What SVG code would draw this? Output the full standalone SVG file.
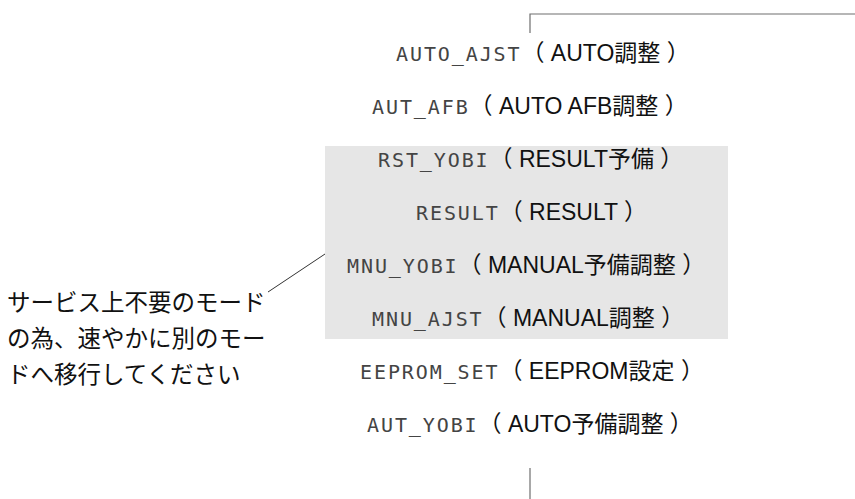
<svg xmlns="http://www.w3.org/2000/svg" width="855" height="499" viewBox="0 0 855 499">
<style>
.lbl{font-family:"Liberation Sans","Noto Sans CJK JP",sans-serif;font-size:23px;fill:#111}
.mono{font-family:"DejaVu Sans Mono",monospace;font-size:20px;fill:#444;letter-spacing:1.9px}
.note{font-family:"Noto Sans CJK JP",sans-serif;font-size:23.5px;fill:#111}
.con{fill:none;stroke:#6e6e6e;stroke-width:1.2}
</style>
<rect id="band" x="325" y="146" width="403" height="193" fill="#e6e6e6"/>
<g id="connectors">
<polyline class="con" points="530,33 530,14 855,14"/>
<line class="con" x1="530" y1="468" x2="530" y2="499"/>
<line x1="268" y1="292" x2="325" y2="254" stroke="#333" stroke-width="1"/>
</g>
<g id="n1"><text class="lbl" x="396" y="61"><tspan class="mono">AUTO_AJST</tspan>（ AUTO調整 ）</text></g>
<g id="n2"><text class="lbl" x="372" y="114"><tspan class="mono">AUT_AFB</tspan>（ AUTO AFB調整 ）</text></g>
<g id="n3"><text class="lbl" x="378" y="167"><tspan class="mono">RST_YOBI</tspan>（ RESULT予備 ）</text></g>
<g id="n4"><text class="lbl" x="416" y="220"><tspan class="mono">RESULT</tspan>（ RESULT ）</text></g>
<g id="n5"><text class="lbl" x="347" y="273"><tspan class="mono">MNU_YOBI</tspan>（ MANUAL予備調整 ）</text></g>
<g id="n6"><text class="lbl" x="372" y="326"><tspan class="mono">MNU_AJST</tspan>（ MANUAL調整 ）</text></g>
<g id="n7"><text class="lbl" x="360" y="379"><tspan class="mono">EEPROM_SET</tspan>（ EEPROM設定 ）</text></g>
<g id="n8"><text class="lbl" x="367" y="432"><tspan class="mono">AUT_YOBI</tspan>（ AUTO予備調整 ）</text></g>
<g id="note"><text class="note"><tspan x="7" y="311">サービス上不要のモード</tspan><tspan x="7" y="347">の為、速やかに別のモー</tspan><tspan x="7" y="383">ドへ移行してください</tspan></text></g>
</svg>
